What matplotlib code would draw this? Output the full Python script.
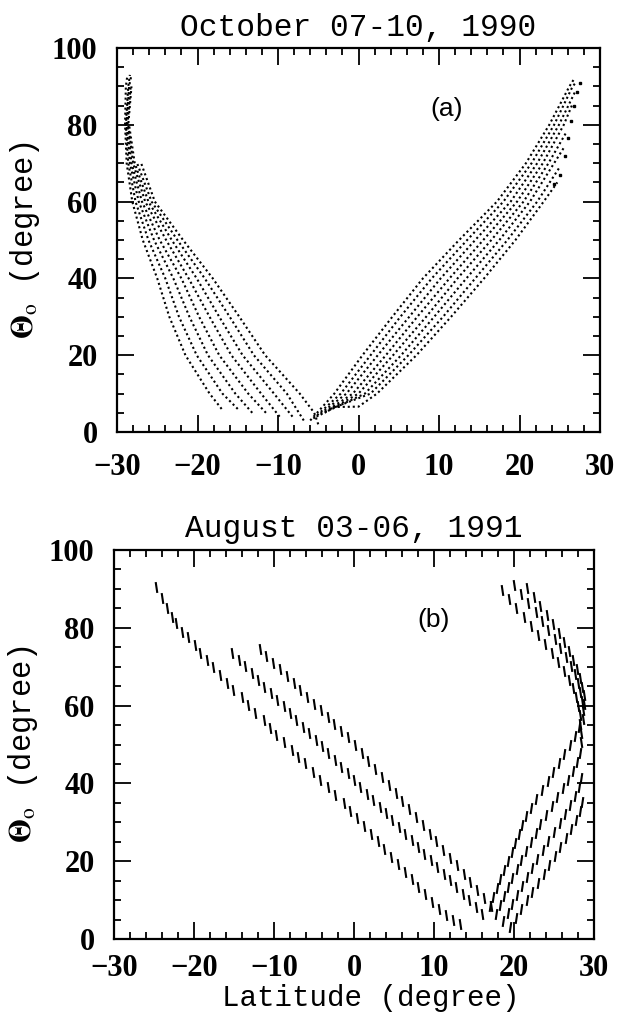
import matplotlib
matplotlib.use("Agg")
import matplotlib.pyplot as plt
from matplotlib.path import Path
from matplotlib.ticker import MultipleLocator

# ---------------- data: panel (a) dotted tracks (latitude, theta) ----------------
a_right_lat = [
    [-6.0, -3.0, 0.5, 4.2, 8.0, 12.5, 17.2, 20.8, 23.7, 26.2, 26.8],
    [-5.6, -2.2, 1.5, 5.2, 9.1, 13.5, 18.0, 21.5, 24.3, 26.6, 27.0],
    [-5.2, -1.5, 2.4, 6.3, 10.2, 14.5, 18.9, 22.2, 24.9, 27.0],
    [-4.7, -0.7, 3.4, 7.3, 11.3, 15.5, 19.7, 22.9, 25.5, 26.5],
    [-4.2, 0.0, 4.3, 8.4, 12.3, 16.5, 20.5, 23.6, 25.8],
    [-3.8, 0.8, 5.3, 9.4, 13.4, 17.5, 21.3, 24.3, 25.5],
    [-3.5, 1.5, 6.2, 10.5, 14.5, 18.5, 22.2, 25.0],
    [-3.2, 0.0, 2.3, 7.2, 11.5, 15.6, 19.5, 23.0, 24.7],
]
a_right_theta = [
    [3, 10, 20, 30, 40, 50, 60, 70, 80, 90, 92],
    [3.5, 10, 20, 30, 40, 50, 60, 70, 80, 90, 91],
    [4, 10, 20, 30, 40, 50, 60, 70, 80, 89],
    [4.5, 10, 20, 30, 40, 50, 60, 70, 80, 85],
    [5, 10, 20, 30, 40, 50, 60, 70, 78],
    [5.5, 10, 20, 30, 40, 50, 60, 70, 74],
    [6, 10, 20, 30, 40, 50, 60, 69],
    [6.5, 6.6, 10, 20, 30, 40, 50, 60, 65],
]
a_left_lat = [
    [-17.0, -18.5, -21.5, -23.5, -25.0, -26.8, -28.1, -28.8, -29.0, -28.9, -28.7],
    [-15.0, -16.9, -20.1, -22.3, -24.0, -26.1, -27.7, -28.6, -28.9, -28.6, -28.4],
    [-13.2, -15.3, -18.7, -21.0, -23.0, -25.4, -27.3, -28.4, -28.8, -28.5, -28.2],
    [-11.5, -13.7, -17.3, -19.8, -22.0, -24.7, -26.9, -28.2, -28.7, -28.3],
    [-9.8, -12.1, -15.8, -18.5, -21.1, -23.9, -26.5, -28.0, -28.6, -28.2],
    [-8.2, -10.5, -14.4, -17.3, -20.1, -23.2, -26.1, -27.8, -28.5],
    [-6.8, -8.9, -13.0, -16.0, -19.1, -22.5, -25.7, -27.5],
    [-5.0, -5.5, -7.3, -11.6, -14.8, -18.1, -21.8, -25.3, -27.0],
]
a_left_theta = [
    [6, 10, 20, 30, 40, 50, 60, 70, 80, 90, 93],
    [6, 10, 20, 30, 40, 50, 60, 70, 80, 90, 93],
    [5, 10, 20, 30, 40, 50, 60, 70, 80, 90, 93],
    [5, 10, 20, 30, 40, 50, 60, 70, 80, 90],
    [4, 10, 20, 30, 40, 50, 60, 70, 80, 90],
    [4, 10, 20, 30, 40, 50, 60, 70, 80],
    [3, 10, 20, 30, 40, 50, 60, 70],
    [2, 5, 10, 20, 30, 40, 50, 60, 70],
]
a_sparse_lat = [24.3, 25.0, 25.6, 26.0, 26.4, 26.8, 27.2, 27.5]
a_sparse_theta = [64.5, 67.0, 72.0, 76.5, 81.0, 85.0, 88.5, 91.0]

# ---------------- data: panel (b) dash centres (latitude, theta) ----------------
# descending bands on the left
b_band1_lat = [-24.7, -24.0, -23.4, -22.8, -22.2, -21.5, -20.7, -19.9, -19.25, -18.4,
               -17.6, -16.75, -15.9, -15.1, -14.0, -13.2, -12.4, -11.3, -10.5, -9.7,
               -8.8, -7.8, -7.0, -6.1, -5.1, -4.25, -3.2, -2.4, -1.3, -0.45, 0.4, 1.25,
               2.1, 2.95, 3.8, 4.65, 5.5, 6.35, 7.2, 8.05, 8.9, 9.75, 10.6, 11.5, 12.4, 13.3]
b_band1_theta = [90.6, 87.6, 85.0, 82.9, 81.2, 79.0, 77.7, 75.6, 73.4, 71.7,
                 70.0, 67.9, 65.7, 64.0, 62.3, 60.2, 58.0, 56.3, 54.2, 52.4,
                 50.7, 48.6, 46.9, 45.2, 43.0, 40.9, 39.2, 37.0, 34.9, 33.0, 31.0, 29.0,
                 27.1, 25.1, 23.2, 21.2, 19.3, 17.3, 15.4, 13.4, 11.5, 9.6, 7.8, 6.2, 4.8, 3.8]
b_band2_lat = [-15.2, -14.4, -13.6, -12.8, -12.0, -11.2, -10.4, -9.6, -8.8, -8.0,
               -7.2, -6.4, -5.6, -4.8, -4.0, -3.2, -2.4, -1.6, -0.8, 0.0, 0.8, 1.6,
               2.4, 3.2, 4.0, 4.8, 5.6, 6.4, 7.2, 8.0, 8.8, 9.6, 10.4, 11.2, 12.0,
               12.8, 13.6, 14.4, 15.2, 16.0]
b_band2_theta = [73.5, 71.8, 70.1, 68.3, 66.6, 64.9, 63.2, 61.5, 59.8, 58.0,
                 56.3, 54.6, 52.9, 51.2, 49.5, 47.7, 46.0, 44.3, 42.6, 40.9, 39.2, 37.4,
                 35.7, 34.0, 32.3, 30.5, 28.8, 27.1, 25.4, 23.7, 21.9, 20.2, 18.5, 16.8, 15.1,
                 13.3, 11.6, 9.9, 8.2, 6.5]
b_band3_lat = [-11.8, -10.95, -10.1, -9.25, -8.4, -7.55, -6.7, -5.85, -5.0, -4.15,
               -3.3, -2.45, -1.6, -0.75, 0.1, 0.95, 1.8, 2.65, 3.5, 4.35, 5.2, 6.05,
               6.9, 7.75, 8.6, 9.45, 10.3, 11.15, 12.0, 12.85, 13.7, 14.55, 15.4, 16.25, 17.1]
b_band3_theta = [74.5, 72.7, 71.0, 69.3, 67.5, 65.8, 64.0, 62.2, 60.5, 58.8,
                 57.0, 55.2, 53.5, 51.8, 50.0, 47.9, 45.8, 43.8, 41.7, 39.6, 37.5, 35.5,
                 33.4, 31.3, 29.2, 27.1, 25.1, 23.0, 20.9, 18.9, 16.8, 14.7, 12.6, 10.6, 8.5]
# upper part of the right arc (going down to the right)
b_up1_lat = [18.5, 19.4, 20.3, 21.2, 22.1, 23.0, 23.9, 24.7, 25.5, 26.3, 26.9, 27.4,
             27.8, 28.0, 28.2, 28.3, 28.4, 28.4]
b_up1_theta = [89.7, 87.4, 85.1, 82.8, 80.5, 78.2, 75.9, 73.6, 71.3, 69.0, 66.7, 64.4,
               62.1, 59.8, 57.5, 55.2, 52.9, 50.6]
b_up2_lat = [20.0, 20.9, 21.8, 22.7, 23.5, 24.3, 25.1, 25.8, 26.5, 27.1, 27.6, 28.0,
             28.3, 28.5, 28.6, 28.6]
b_up2_theta = [91.0, 88.7, 86.4, 84.1, 81.8, 79.5, 77.2, 74.9, 72.6, 70.3, 68.0, 65.7,
               63.4, 61.1, 58.8, 56.5]
b_up3_lat = [21.6, 22.5, 23.3, 24.1, 24.9, 25.6, 26.3, 26.9, 27.4, 27.9, 28.3, 28.5, 28.7, 28.7]
b_up3_theta = [90.2, 87.9, 85.6, 83.3, 81.0, 78.7, 76.4, 74.1, 71.8, 69.5, 67.2, 64.9, 62.6, 60.3]
# lower part of the right arc (going up to the right)
b_dn1_lat = [17.0, 17.4, 17.9, 18.3, 18.8, 19.2, 19.7, 20.1, 20.6, 21.0, 21.5, 22.1,
             22.8, 23.5, 24.2, 24.9, 25.6, 26.3, 27.0, 27.6, 28.1]
b_dn1_theta = [8.5, 10.8, 13.1, 15.4, 17.7, 20.0, 22.3, 24.6, 26.9, 29.2, 31.5, 33.8,
               36.1, 38.4, 40.7, 43.0, 45.3, 47.6, 49.9, 52.2, 54.5]
b_dn2_lat = [17.8, 18.3, 18.8, 19.3, 19.8, 20.4, 20.9, 21.5, 22.1, 22.7, 23.3, 24.0,
             24.7, 25.4, 26.1, 26.8, 27.4, 27.9, 28.3]
b_dn2_theta = [6.5, 8.8, 11.1, 13.4, 15.7, 18.0, 20.3, 22.6, 24.9, 27.2, 29.5, 31.8,
               34.1, 36.4, 38.7, 41.0, 43.3, 45.6, 47.9]
b_dn3_lat = [18.6, 19.2, 19.8, 20.4, 21.0, 21.6, 22.2, 22.9, 23.6, 24.3, 25.0, 25.7,
             26.4, 27.0, 27.6, 28.1, 28.4]
b_dn3_theta = [4.5, 6.8, 9.1, 11.4, 13.7, 16.0, 18.3, 20.6, 22.9, 25.2, 27.5, 29.8,
               32.1, 34.4, 36.7, 39.0, 41.3]
b_dn4_lat = [19.5, 20.2, 20.9, 21.6, 22.3, 23.0, 23.7, 24.4, 25.1, 25.8, 26.5, 27.1, 27.7, 28.2, 28.5]
b_dn4_theta = [3.0, 5.3, 7.6, 9.9, 12.2, 14.5, 16.8, 19.1, 21.4, 23.7, 26.0, 28.3, 30.6, 32.9, 35.2]

x_ticks = [-30, -20, -10, 0, 10, 20, 30]
y_ticks = [0, 20, 40, 60, 80, 100]
titles = ["October 07-10, 1990", "August 03-06, 1991"]
panel_tags = ["(a)", "(b)"]

# ---------------- styling ----------------
plt.rcParams["mathtext.fontset"] = "stix"
SERIF = "Liberation Serif"
MONO = "Liberation Mono"
SANS = "Liberation Sans"

W, H = 619, 1015
fig = plt.figure(figsize=(W / 100, H / 100), dpi=100)
ax1 = fig.add_axes([117 / W, 1 - 432 / H, (600 - 117) / W, (432 - 48) / H])
ax2 = fig.add_axes([114 / W, 1 - 939 / H, (594 - 114) / W, (939 - 550) / H])

dash_back = Path([(-0.15, 1.0), (0.15, -1.0)], [Path.MOVETO, Path.LINETO])   # "\"
dash_fwd = Path([(-0.15, -1.0), (0.15, 1.0)], [Path.MOVETO, Path.LINETO])    # "/"

def style_axes(ax, title, tag, tagpos, xpad):
    ax.set_xlim(-30, 30)
    ax.set_ylim(0, 100)
    ax.set_xticks(x_ticks)
    ax.set_yticks(y_ticks)
    ax.xaxis.set_minor_locator(MultipleLocator(2))
    ax.yaxis.set_minor_locator(MultipleLocator(5))
    ax.tick_params(which="both", direction="in", top=True, right=True,
                   labelsize=22, width=1.3)
    ax.tick_params(axis="x", which="both", pad=xpad)
    ax.tick_params(axis="y", which="both", pad=14)
    ax.tick_params(which="major", length=12)
    ax.tick_params(which="minor", length=5)
    for lab in ax.get_xticklabels() + ax.get_yticklabels():
        lab.set_fontfamily(SERIF)
        lab.set_fontweight("bold")
    for s in ax.spines.values():
        s.set_linewidth(1.6)
    ax.set_title(title, fontfamily=MONO, fontsize=22.5, pad=9)
    ax.set_ylabel(r"$\mathbf{\Theta}_{\mathrm{o}}$ (degree)", fontfamily=MONO, fontsize=22)
    ax.yaxis.set_label_coords(-0.155, 0.5)
    ax.text(tagpos[0], tagpos[1], tag, fontfamily=SANS, fontsize=19,
            ha="center", va="center")

# panel (a)
for lats, ths in zip(a_right_lat + a_left_lat, a_right_theta + a_left_theta):
    ax1.plot(lats, ths, color="black", lw=1.5, linestyle=(0, (1.0, 1.4)))
ax1.plot(a_sparse_lat, a_sparse_theta, linestyle="none", marker="s", ms=1.8, color="black")
style_axes(ax1, titles[0], panel_tags[0], (11, 84), 15)

# panel (b)
back_bands = [(b_band1_lat, b_band1_theta), (b_band2_lat, b_band2_theta),
              (b_band3_lat, b_band3_theta), (b_up1_lat, b_up1_theta),
              (b_up2_lat, b_up2_theta), (b_up3_lat, b_up3_theta)]
fwd_bands = [(b_dn1_lat, b_dn1_theta), (b_dn2_lat, b_dn2_theta),
             (b_dn3_lat, b_dn3_theta), (b_dn4_lat, b_dn4_theta)]
for lats, ths in back_bands:
    ax2.plot(lats, ths, linestyle="none", marker=dash_back, ms=7.8, mew=1.5,
             color="black", fillstyle="none")
for lats, ths in fwd_bands:
    ax2.plot(lats, ths, linestyle="none", marker=dash_fwd, ms=7.8, mew=1.5,
             color="black", fillstyle="none")
style_axes(ax2, titles[1], panel_tags[1], (10, 82), 11)
ax2.set_xlabel("Latitude (degree)", fontfamily=MONO, fontsize=21)
ax2.xaxis.set_label_coords(0.535, -0.115)

fig.savefig("out.png", dpi=100)
